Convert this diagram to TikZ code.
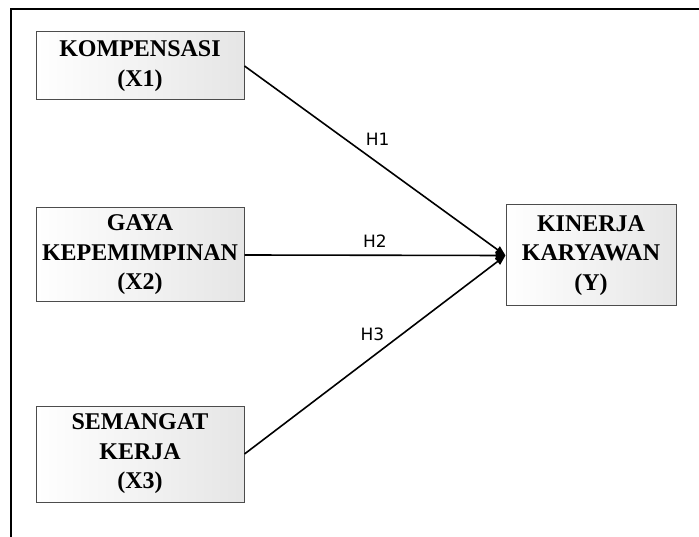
\documentclass[tikz,border=0pt]{standalone}
\usepackage{fontspec}
\setmainfont{Liberation Serif}
\newfontfamily\lblfont{DejaVu Sans}
\usetikzlibrary{arrows.meta, positioning, shapes.geometric, calc}

\tikzset{
    varbox/.style={draw=black!70, line width=1pt, left color=white, right color=black!10,
        align=center, font=\fontsize{24}{29.5}\selectfont\bfseries, inner sep=0pt,
        minimum width=208pt},
    hyp/.style={line width=1.6pt, -{Triangle[length=10pt, width=8pt]}},
    hlbl/.style={font=\lblfont\fontsize{17}{19}\selectfont, inner sep=3pt}
}

\begin{document}
\begin{tikzpicture}[x=1pt, y=-1pt]
    \useasboundingbox (0, 0) rectangle (699, 537);
    % frame
    \draw[line width=2.4pt] (11, 538) -- (11, 9) -- (700, 9);

    \node[varbox, minimum height=68pt] (x1) at (140, 66) {KOMPENSASI\\(X1)};
    \node[varbox, minimum height=94pt] (x2) at (140, 255) {GAYA\\KEPEMIMPINAN\\(X2)};
    \node[varbox, minimum height=96pt] (x3) at (140, 454) {SEMANGAT\\KERJA\\(X3)};
    \node[varbox, minimum width=170pt, minimum height=101pt] (y) at (591, 255.5) {KINERJA\\KARYAWAN\\(Y)};

    \draw[hyp] (x1.east) -- node[hlbl, pos=0.51, above=13pt] {H1} (y.west);
    \draw[hyp] (x2.east) -- node[hlbl, pos=0.5, above=4pt] {H2} (y.west);
    \draw[hyp] (x3.east) -- node[hlbl, pos=0.49, above=12pt] {H3} (y.west);
\end{tikzpicture}
\end{document}
